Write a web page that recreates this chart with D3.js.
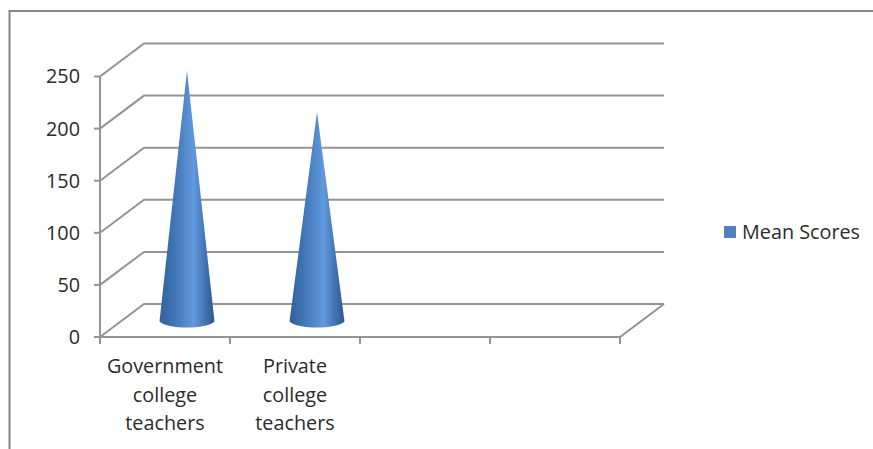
<!DOCTYPE html>
<html>
<head>
<meta charset="utf-8">
<script src="https://cdn.jsdelivr.net/npm/d3@7"></script>
<style>
html,body{margin:0;padding:0;background:#fff;}
svg{display:block;}
text{font-family:"Open Sans",sans-serif;fill:#2b2b2b;}
</style>
</head>
<body>
<svg id="chart" width="873" height="449"></svg>
<script>
// Mean scores by teacher group; the two trailing slots stay empty on the axis
const categories = ["Government college teachers", "Private college teachers", "slot3", "slot4"];
const shownLabels = [["Government", "college", "teachers"], ["Private", "college", "teachers"], [], []];
const meanScores = [240, 200];
const yTicks = [0, 50, 100, 150, 200, 250];
const seriesName = "Mean Scores";

const W = 873, H = 449;
const svg = d3.select("#chart");
const grid = "#949494";
const fontSize = 19.8;

// Oblique 3D frame: the front plane sits on these scales, the back wall is offset by (dx, dy)
const x = d3.scaleBand().domain(categories).range([100, 620]);
const y = d3.scaleLinear().domain([0, 250]).range([337, 76.5]);
const dx = 44, dy = -33;

// Outer chart frame, open on the right and at the bottom
svg.append("path")
  .attr("d", d3.line()([[9.5, H], [9.5, 11], [W, 11]]))
  .attr("fill", "none").attr("stroke", "#848484").attr("stroke-width", 2);

// Cone shading runs across the width, brightest just right of centre
const grad = svg.append("defs").append("linearGradient").attr("id", "coneShade")
  .attr("x1", 0).attr("x2", 1).attr("y1", 0).attr("y2", 0);
[[0, "#33609a"], [0.25, "#3f74b4"], [0.62, "#6199dd"], [0.85, "#3f70ae"], [1, "#2f5688"]]
  .forEach(([o, c]) => grad.append("stop").attr("offset", o).attr("stop-color", c));

const gridG = svg.append("g").attr("fill", "none").attr("stroke", grid).attr("stroke-width", 2);

// Back wall gridlines with the receding side-wall segments
yTicks.forEach(t => {
  gridG.append("path").attr("d", d3.line()([
    [x.range()[0], y(t)],
    [x.range()[0] + dx, y(t) + dy],
    [x.range()[1] + dx, y(t) + dy]
  ]));
});

// Front floor edge, closing diagonal and value axis
gridG.append("path").attr("d", d3.line()([
  [x.range()[0], y(0)], [x.range()[1], y(0)], [x.range()[1] + dx, y(0) + dy]
]));
gridG.append("path").attr("d", d3.line()([[x.range()[0], y(250)], [x.range()[0], y(0)]]));

// Value axis ticks and labels
yTicks.forEach(t => {
  gridG.append("path").attr("d", d3.line()([[x.range()[0] - 6, y(t)], [x.range()[0], y(t)]]));
  svg.append("text").attr("x", 80).attr("y", y(t)).attr("dy", "0.35em")
    .attr("text-anchor", "end").attr("font-size", fontSize).text(t);
});

// Category boundary ticks
const boundaries = categories.map(c => x(c)).concat(x.range()[1]);
boundaries.forEach(b => {
  gridG.append("path").attr("d", d3.line()([[b, y(0)], [b, y(0) + 7]]));
});

// Category labels, wrapped on three lines
categories.forEach((c, i) => {
  const t = svg.append("text").attr("text-anchor", "middle").attr("font-size", fontSize);
  shownLabels[i].forEach((line, j) => {
    t.append("tspan").attr("x", x(c) + x.bandwidth() / 2)
      .attr("y", 373 + j * 28.5).text(line);
  });
});

// Cones: apex height comes from the value, planted at mid depth of the floor
const rx = 27.5, ry = 6;
meanScores.forEach((v, i) => {
  const cx = x(categories[i]) + x.bandwidth() / 2 + dx / 2;
  const baseY = y(0) + dy / 2 + 1;
  const tipY = y(v) + dy / 2;
  const path = d3.path();
  path.moveTo(cx, tipY);
  path.lineTo(cx + rx, baseY);
  path.bezierCurveTo(cx + rx * 0.7, baseY + ry * 1.35, cx - rx * 0.7, baseY + ry * 1.35, cx - rx, baseY);
  path.closePath();
  svg.append("path").attr("d", path.toString()).attr("fill", "url(#coneShade)");
});

// Legend
svg.append("rect").attr("x", 724).attr("y", 226).attr("width", 12).attr("height", 12).attr("fill", "#4f81bd");
svg.append("text").attr("x", 742).attr("y", 239).attr("font-size", fontSize).text(seriesName);
</script>
</body>
</html>
